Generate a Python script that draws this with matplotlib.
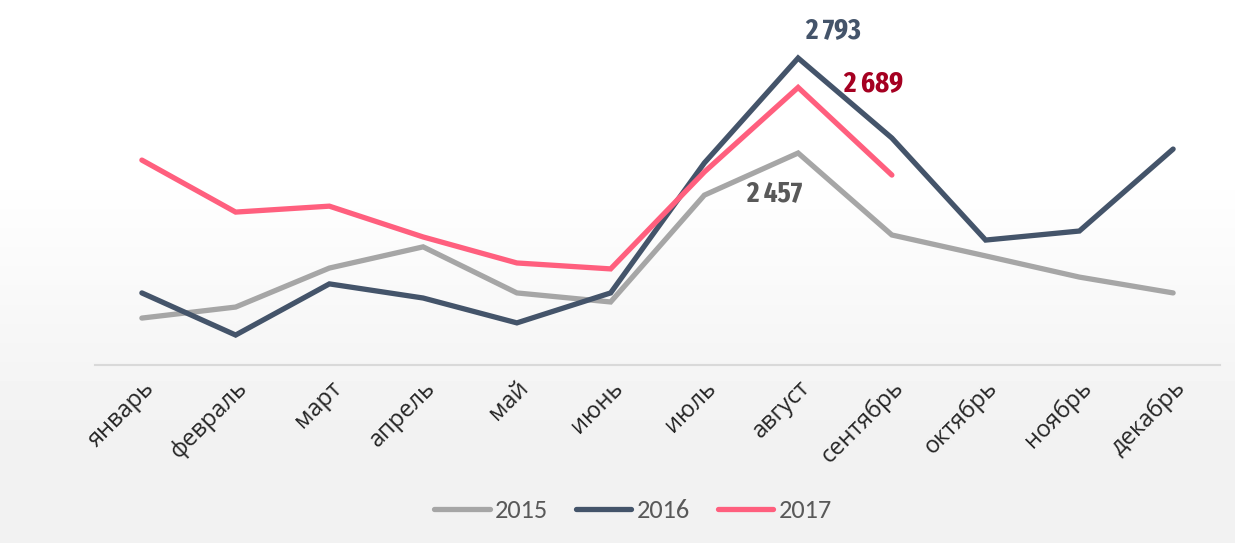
import numpy as np
import matplotlib
matplotlib.use("Agg")
import matplotlib.pyplot as plt
from matplotlib import font_manager

# monthly values
months = ["январь", "февраль", "март", "апрель", "май", "июнь",
          "июль", "август", "сентябрь", "октябрь", "ноябрь", "декабрь"]
y2015 = [1873, 1912, 2050, 2125, 1962, 1930, 2308, 2457, 2167, 2093, 2018, 1962]
y2016 = [1962, 1813, 1994, 1944, 1856, 1962, 2422, 2793, 2510, 2149, 2181, 2471]
y2017 = [2432, 2248, 2269, 2160, 2068, 2047, 2390, 2689, 2379]

names = {f.name for f in font_manager.fontManager.ttflist}
narrow = next((n for n in ["Fira Sans Extra Condensed", "Fira Sans Condensed"] if n in names), "DejaVu Sans")
legfont, legsize = ("Carlito", 19) if "Carlito" in names else ("Open Sans", 17)

W, H = 1235, 543
fig = plt.figure(figsize=(W / 100, H / 100), dpi=100)

# background: white on top fading to light gray
bg = fig.add_axes([0, 0, 1, 1], zorder=-10)
rows = np.arange(H)
t = np.clip((rows - 170) / (420 - 170), 0, 1)
shade = 1.0 - t * (1.0 - 0xf2 / 255)
img = np.repeat(shade[:, None], 2, axis=1)
bg.imshow(img, cmap="gray", vmin=0, vmax=1, aspect="auto", extent=[0, 1, 0, 1])
bg.axis("off")

ax = fig.add_axes([95 / W, 1 - 365 / H, (1220 - 95) / W, (365 - 10) / H])
ax.patch.set_alpha(0)

x = np.arange(len(months))
lw = 3.8
ax.plot(x, y2015, color="#a6a6a6", lw=lw, label="2015", solid_capstyle="round", solid_joinstyle="miter")
ax.plot(x, y2016, color="#44546a", lw=lw, label="2016", solid_capstyle="round", solid_joinstyle="miter")
ax.plot(x[:len(y2017)], y2017, color="#ff5f7e", lw=lw, label="2017", solid_capstyle="round", solid_joinstyle="miter")

ax.set_xlim(-0.5, len(months) - 0.5)
ax.set_ylim(1707, 2963)

for s in ["top", "right", "left"]:
    ax.spines[s].set_visible(False)
ax.spines["bottom"].set_color("#d9d9d9")
ax.spines["bottom"].set_linewidth(1.5)
ax.set_yticks([])
ax.set_xticks(x)
ax.set_xticklabels(months, rotation=45, ha="right", rotation_mode="anchor",
                   fontsize=17, family="Open Sans", color="#262626")
ax.tick_params(axis="x", length=0, pad=8)

lab = dict(family=narrow, weight="bold", fontsize=21,
           ha="center", va="center", textcoords="offset points")
ax.annotate(f"{y2016[7]:,}".replace(",", " "), (7, y2016[7]), xytext=(25, 20),
            color="#44546a", **lab)
ax.annotate(f"{y2017[7]:,}".replace(",", " "), (7, y2017[7]), xytext=(54, 3),
            color="#a50021", **lab)
ax.annotate(f"{y2015[7]:,}".replace(",", " "), (7, y2015[7]), xytext=(-17, -29),
            color="#595959", **lab)

leg = fig.legend(loc="center", ncol=3, frameon=False, bbox_to_anchor=(633 / W, 1 - 511 / H),
                 prop={"family": legfont, "size": legsize}, handlelength=2.1,
                 handletextpad=0.2, columnspacing=1.05)
for txt in leg.get_texts():
    txt.set_color("#595959")

fig.savefig("out.png", dpi=100)
